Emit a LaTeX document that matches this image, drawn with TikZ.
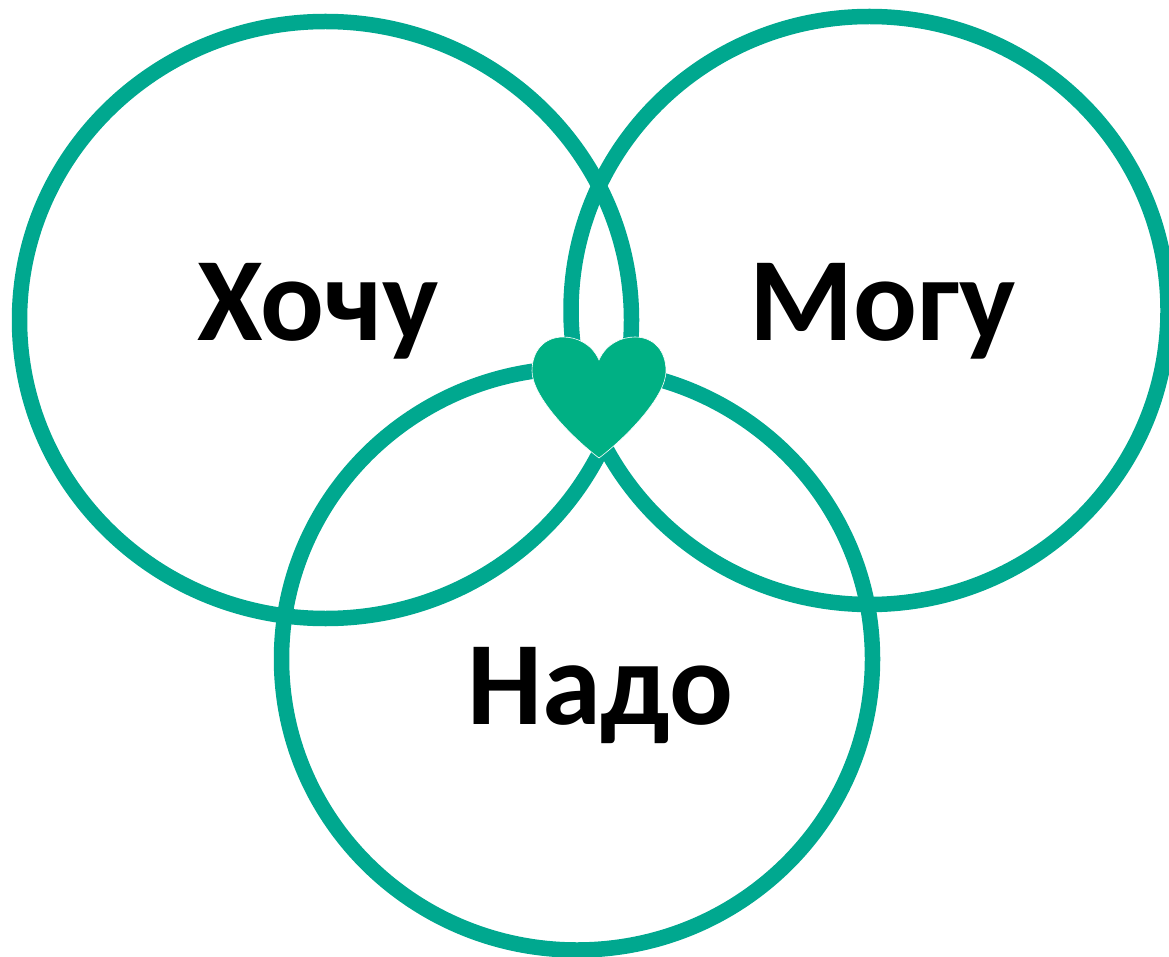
\documentclass[tikz,border=0pt]{standalone}
\usepackage{fontspec}
\setmainfont{Carlito}
\usetikzlibrary{shapes.geometric}
\definecolor{ringc}{HTML}{00A88F}
\definecolor{heartc}{HTML}{00B084}
\tikzset{
  ring/.style={ellipse,draw=ringc,line width=15.5pt,inner sep=0pt,fill=none},
  word/.style={font=\fontsize{119}{119}\selectfont\bfseries,text=black,inner sep=0pt,anchor=base},
}
\begin{document}
\begin{tikzpicture}[x=1pt,y=-1pt]
\useasboundingbox (0,0) rectangle (1169,957);
\clip (0,0) rectangle (1169,957);
\node[ring,minimum width=612pt,minimum height=597pt] (want) at (325.5,320) {};
\node[ring,minimum width=597pt,minimum height=588pt] (can) at (869.5,310.5) {};
\node[ring,minimum width=591pt,minimum height=582pt] (must) at (577,659) {};
\node[word] (w1) at (318,340) {Хочу};
\node[word] (w2) at (883,340) {Могу};
\node[word] (w3) at (600,724) {Надо};
\fill[heartc,draw=white,line width=0.6pt] (599,360)
  .. controls (592,344) and (577,337) .. (563,337)
  .. controls (544,337) and (532,351) .. (532,371)
  .. controls (532,396) and (570,436) .. (599,458)
  .. controls (628,436) and (666,396) .. (666,371)
  .. controls (666,351) and (654,337) .. (635,337)
  .. controls (621,337) and (606,344) .. (599,360) -- cycle;
\end{tikzpicture}
\end{document}
